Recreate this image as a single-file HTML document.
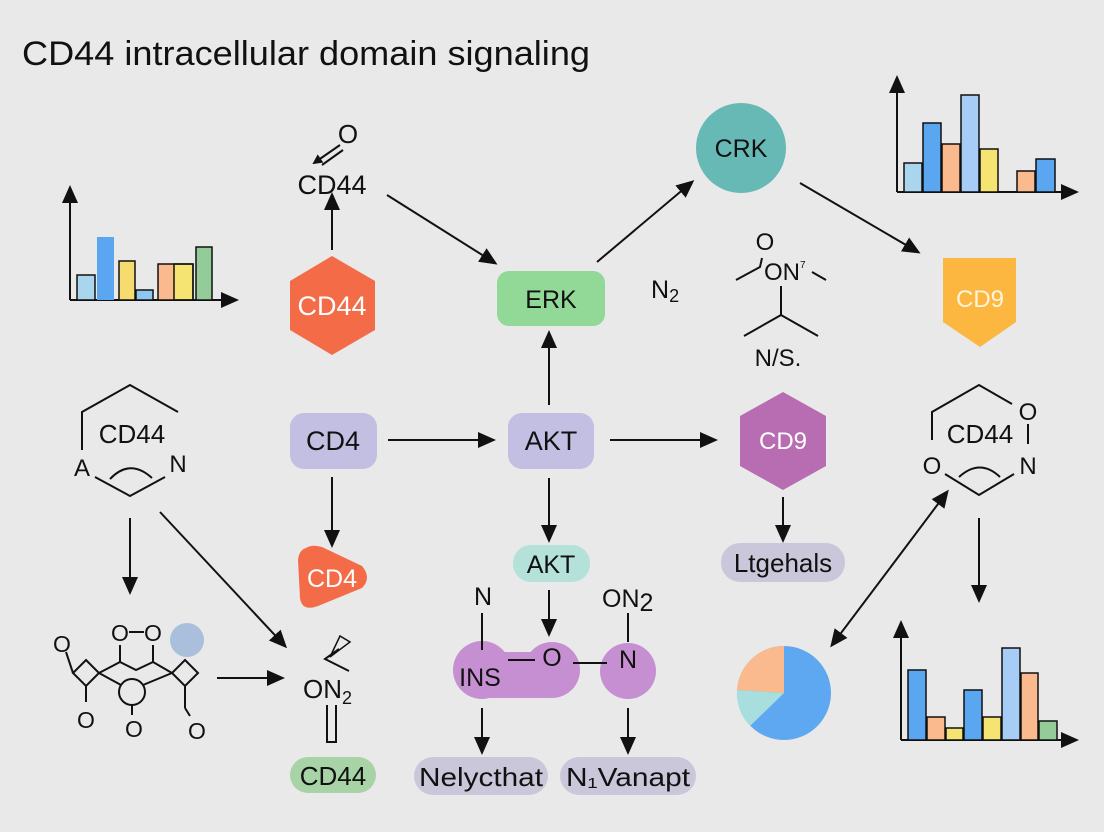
<!DOCTYPE html>
<html><head><meta charset="utf-8"><style>
html,body{margin:0;padding:0;background:#e9e9e9;}
svg{display:block;font-family:"Liberation Sans",sans-serif;}
</style></head><body>
<svg width="1104" height="832" viewBox="0 0 1104 832" xmlns="http://www.w3.org/2000/svg">
<defs>
<marker id="ah" markerWidth="10" markerHeight="10" refX="8" refY="5" orient="auto" markerUnits="userSpaceOnUse" viewBox="0 0 10 10"><path d="M0,0 L10,5 L0,10 z" fill="#111"/></marker>
<marker id="ah2" markerWidth="18" markerHeight="18" refX="15" refY="9" orient="auto-start-reverse" markerUnits="userSpaceOnUse" viewBox="0 0 18 18"><path d="M0,1 L18,9 L0,17 z" fill="#111"/></marker>
</defs>
<rect width="1104" height="832" fill="#e9e9e9"/>
<text x="22" y="65" font-size="34" textLength="568" lengthAdjust="spacingAndGlyphs" fill="#111">CD44 intracellular domain signaling</text>

<g stroke="#111" stroke-width="2" fill="none" marker-end="url(#ah2)">
<line x1="70" y1="300" x2="70" y2="188"/>
<line x1="70" y1="300" x2="236" y2="300"/>
<line x1="897" y1="192" x2="897" y2="78"/>
<line x1="897" y1="192" x2="1076" y2="192"/>
<line x1="901" y1="740" x2="901" y2="623"/>
<line x1="901" y1="740" x2="1076" y2="740"/>
<line x1="332" y1="250" x2="332" y2="195"/>
<line x1="387" y1="195" x2="495" y2="263"/>
<line x1="597" y1="262" x2="692" y2="182"/>
<line x1="800" y1="183" x2="918" y2="252"/>
<line x1="388" y1="440" x2="493" y2="440"/>
<line x1="610" y1="440" x2="715" y2="440"/>
<line x1="549" y1="405" x2="549" y2="333"/>
<line x1="549" y1="478" x2="549" y2="540"/>
<line x1="549" y1="590" x2="549" y2="634"/>
<line x1="332" y1="477" x2="332" y2="545"/>
<line x1="130" y1="518" x2="130" y2="592"/>
<line x1="160" y1="512" x2="285" y2="646"/>
<line x1="217" y1="678" x2="282" y2="678"/>
<line x1="482" y1="708" x2="482" y2="752"/>
<line x1="628" y1="708" x2="628" y2="752"/>
<line x1="783" y1="497" x2="783" y2="540"/>
<line x1="979" y1="518" x2="979" y2="600"/>
<line x1="890" y1="568" x2="947" y2="492"/>
<line x1="890" y1="568" x2="832" y2="645"/>
</g>

<g stroke="#111" stroke-width="1.5">
<rect x="77" y="275" width="18" height="25" fill="#a9d6ec"/>
<rect x="97" y="237" width="17" height="63" fill="#5ba6f0" stroke="none"/>
<rect x="119" y="261" width="16" height="39" fill="#f6dc6e"/>
<rect x="136" y="290" width="17" height="10" fill="#8ec6f0"/>
<rect x="158" y="264" width="16" height="36" fill="#fbb98e" stroke="none"/>
<rect x="174" y="264" width="19" height="36" fill="#f6e472"/>
<rect x="158" y="264" width="35" height="36" fill="none"/>
<rect x="196" y="247" width="16" height="53" fill="#93cc98"/>
</g>
<g stroke="#111" stroke-width="1.5">
<rect x="904" y="163" width="18" height="29" fill="#a9d6ec"/>
<rect x="923" y="123" width="18" height="69" fill="#5ba6f0"/>
<rect x="942" y="144" width="18" height="48" fill="#fbb98e"/>
<rect x="961" y="95" width="18" height="97" fill="#a7cdf6"/>
<rect x="980" y="149" width="18" height="43" fill="#f6e472"/>
<rect x="1017" y="171" width="18" height="21" fill="#fbb98e"/>
<rect x="1036" y="159" width="19" height="33" fill="#5ba6f0"/>
</g>
<g stroke="#111" stroke-width="1.5">
<rect x="908" y="670" width="18" height="70" fill="#5ba6f0"/>
<rect x="927" y="717" width="18" height="23" fill="#fbb98e"/>
<rect x="946" y="728" width="17" height="12" fill="#f6e472"/>
<rect x="964" y="690" width="18" height="50" fill="#5ba6f0"/>
<rect x="983" y="717" width="18" height="23" fill="#f6e472"/>
<rect x="1002" y="648" width="18" height="92" fill="#a7cdf6"/>
<rect x="1021" y="673" width="17" height="67" fill="#fbb98e"/>
<rect x="1039" y="721" width="18" height="19" fill="#93cc98"/>
</g>

<text x="332" y="194" font-size="27" text-anchor="middle" fill="#111">CD44</text>
<text x="348" y="143" font-size="26" text-anchor="middle" fill="#111">O</text>
<line x1="340" y1="145" x2="314" y2="163" stroke="#111" stroke-width="2" marker-end="url(#ah)"/>
<line x1="343" y1="150" x2="322" y2="165" stroke="#111" stroke-width="2"/>

<polygon points="332,256 375,281 375,330 332,355 290,330 290,281" fill="#f46b48"/>
<text x="332" y="315" font-size="27" text-anchor="middle" fill="#fff">CD44</text>

<rect x="497" y="271" width="108" height="55" rx="12" fill="#92d897"/>
<text x="551" y="308" font-size="25" text-anchor="middle" fill="#111">ERK</text>
<circle cx="741" cy="148" r="45" fill="#67b9b5"/>
<text x="741" y="157" font-size="25" text-anchor="middle" fill="#111">CRK</text>
<text x="651" y="298" font-size="25" fill="#111">N<tspan font-size="18" dy="4">2</tspan></text>

<text x="765" y="250" font-size="24" text-anchor="middle" fill="#111">O</text>
<text x="764" y="280" font-size="24" fill="#111">ON<tspan font-size="10" dy="-12">7</tspan></text>
<polyline points="736,280 760,267 762,258" fill="none" stroke="#111" stroke-width="2"/>
<line x1="812" y1="272" x2="826" y2="280" stroke="#111" stroke-width="2"/>
<polyline points="781,286 781,315 744,336" fill="none" stroke="#111" stroke-width="2"/>
<line x1="781" y1="315" x2="818" y2="336" stroke="#111" stroke-width="2"/>
<text x="778" y="366" font-size="24" text-anchor="middle" fill="#111">N/S.</text>

<polygon points="943,258 1016,258 1016,322 980,347 943,322" fill="#fbb740"/>
<text x="980" y="307" font-size="24" text-anchor="middle" fill="#fff4dc">CD9</text>

<rect x="290" y="413" width="87" height="56" rx="14" fill="#c3bfe3"/>
<text x="333" y="450" font-size="27" text-anchor="middle" fill="#111">CD4</text>
<rect x="508" y="413" width="86" height="56" rx="14" fill="#c3bfe3"/>
<text x="551" y="450" font-size="27" text-anchor="middle" fill="#111">AKT</text>
<polygon points="783,392 826,416 826,466 783,490 740,466 740,416" fill="#b86db3"/>
<text x="783" y="449" font-size="24" text-anchor="middle" fill="#fff">CD9</text>
<rect x="721" y="543" width="124" height="39" rx="19" fill="#cbc7da"/>
<text x="783" y="572" font-size="26" text-anchor="middle" fill="#111">Ltgehals</text>

<polyline points="82,450 82,412 130,385 178,412" fill="none" stroke="#111" stroke-width="2"/>
<polyline points="95,477 130,496 165,477" fill="none" stroke="#111" stroke-width="2"/>
<path d="M110,479 Q130,458 152,478" fill="none" stroke="#111" stroke-width="2"/>
<text x="132" y="443" font-size="26" text-anchor="middle" fill="#111">CD44</text>
<text x="82" y="476" font-size="24" text-anchor="middle" fill="#111">A</text>
<text x="178" y="472" font-size="24" text-anchor="middle" fill="#111">N</text>

<polyline points="932,440 932,412 979,385 1012,404" fill="none" stroke="#111" stroke-width="2"/>
<polyline points="945,474 979,495 1014,474" fill="none" stroke="#111" stroke-width="2"/>
<path d="M959,477 Q980,458 1000,477" fill="none" stroke="#111" stroke-width="2"/>
<line x1="1028" y1="424" x2="1028" y2="444" stroke="#111" stroke-width="2"/>
<text x="980" y="443" font-size="26" text-anchor="middle" fill="#111">CD44</text>
<text x="1028" y="420" font-size="24" text-anchor="middle" fill="#111">O</text>
<text x="932" y="474" font-size="24" text-anchor="middle" fill="#111">O</text>
<text x="1028" y="474" font-size="24" text-anchor="middle" fill="#111">N</text>

<g fill="none" stroke="#111" stroke-width="2">
<polygon points="86,660 99,673 86,686 73,673"/>
<polygon points="185,660 198,673 185,686 172,673"/>
<circle cx="132" cy="692" r="13"/>
<polyline points="99,673 120,662 136,670 153,662 172,673"/>
<line x1="99" y1="673" x2="121" y2="685"/>
<line x1="172" y1="673" x2="143" y2="685"/>
<line x1="120" y1="662" x2="120" y2="645"/>
<line x1="153" y1="662" x2="153" y2="645"/>
<line x1="73" y1="673" x2="66" y2="652"/>
<line x1="86" y1="686" x2="86" y2="702"/>
<line x1="132" y1="705" x2="132" y2="715"/>
<line x1="185" y1="686" x2="185" y2="708"/>
<line x1="129" y1="632" x2="144" y2="632"/>
</g>
<circle cx="187" cy="640" r="17" fill="#a9bfdc"/>
<g font-size="23" text-anchor="middle" fill="#111">
<text x="120" y="641">O</text><text x="153" y="641">O</text>
<text x="62" y="652">O</text><text x="86" y="728">O</text>
<text x="134" y="737">O</text><text x="197" y="739">O</text>
</g>
<line x1="185" y1="708" x2="190" y2="716" stroke="#111" stroke-width="2"/>

<text x="303" y="698" font-size="26" fill="#111">ON<tspan font-size="18" dy="6">2</tspan></text>
<polyline points="339,649 325,659 349,671" fill="none" stroke="#111" stroke-width="2"/>
<polygon points="330,657 340,636 350,642" fill="none" stroke="#111" stroke-width="1.5"/>
<polyline points="327,705 327,742 336,742 336,705" fill="none" stroke="#111" stroke-width="2"/>
<rect x="290" y="757" width="86" height="36" rx="18" fill="#a8d3a7"/>
<text x="333" y="785" font-size="26" text-anchor="middle" fill="#111">CD44</text>

<path d="M306,548 Q312,544 322,547 L362,566 Q372,578 362,588 L318,606 Q302,612 300,598 L298,560 Q299,550 306,548 Z" fill="#f46b48"/>
<text x="332" y="587" font-size="25" text-anchor="middle" fill="#fff">CD4</text>

<rect x="513" y="545" width="77" height="37" rx="18" fill="#b4e1d9"/>
<text x="551" y="573" font-size="25" text-anchor="middle" fill="#111">AKT</text>

<circle cx="482" cy="670" r="29" fill="#c58fd1"/>
<circle cx="552" cy="670" r="28" fill="#c58fd1"/>
<rect x="482" y="652" width="70" height="46" fill="#c58fd1"/>
<circle cx="628" cy="671" r="28" fill="#c58fd1"/>
<text x="480" y="686" font-size="25" text-anchor="middle" fill="#111">INS</text>
<text x="552" y="666" font-size="25" text-anchor="middle" fill="#111">O</text>
<text x="628" y="668" font-size="25" text-anchor="middle" fill="#111">N</text>
<text x="483" y="605" font-size="25" text-anchor="middle" fill="#111">N</text>
<text x="602" y="607" font-size="25" fill="#111">ON<tspan dy="4">2</tspan></text>
<g stroke="#111" stroke-width="2">
<line x1="482" y1="613" x2="482" y2="650"/>
<line x1="628" y1="613" x2="628" y2="642"/>
<line x1="508" y1="660" x2="535" y2="660"/>
<line x1="573" y1="663" x2="607" y2="663"/>
</g>
<rect x="414" y="757" width="134" height="38" rx="19" fill="#cbc7da"/>
<text x="481" y="786" font-size="26" text-anchor="middle" fill="#111" textLength="124" lengthAdjust="spacingAndGlyphs">Nelycthat</text>
<rect x="560" y="757" width="136" height="38" rx="19" fill="#cbc7da"/>
<text x="628" y="786" font-size="26" text-anchor="middle" fill="#111" textLength="124" lengthAdjust="spacingAndGlyphs">N₁Vanapt</text>

<circle cx="784" cy="693" r="47" fill="#5ea8f2"/>
<path d="M784,693 L784,646 A47,47 0 0,0 737,690 Z" fill="#fbb98e"/>
<path d="M784,693 L737,690 A47,47 0 0,0 750,726 Z" fill="#a9dede"/>
</svg>
</body></html>
